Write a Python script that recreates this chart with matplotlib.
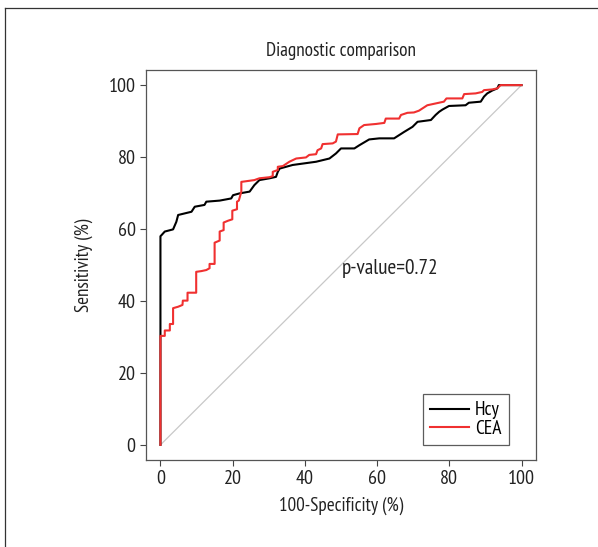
import matplotlib
matplotlib.use("Agg")
import matplotlib.pyplot as plt
from matplotlib.lines import Line2D

plt.rcParams['font.family'] = ['PT Sans Narrow', 'Roboto Condensed', 'DejaVu Sans']

# ROC curve points (100-specificity, sensitivity)
hcy_fpr = [0, 0, 0.3, 1.2, 3.5, 4.4, 4.9, 8.6, 9.5, 12.2, 12.7, 16.4, 19.6, 20.1,
           21.9, 24.7, 26.0, 27.4, 30.2, 32.0, 32.5, 33.0, 36.6, 43.1, 46.8, 48.6,
           50.0, 53.7, 55.1, 57.8, 60.6, 64.7, 66.1, 67.5, 69.8, 71.2, 74.9, 76.2,
           77.2, 78.1, 79.9, 84.5, 85.4, 88.7, 89.6, 90.5, 91.9, 93.3, 93.7, 94.6, 100]
hcy_tpr = [0, 58.0, 58.3, 59.3, 59.9, 62.0, 63.9, 64.8, 66.2, 66.7, 67.6, 67.9, 68.5, 69.4,
           69.9, 70.4, 72.2, 73.6, 74.1, 74.5, 75.9, 76.8, 77.8, 78.7, 79.6, 81.0,
           82.4, 82.4, 83.3, 84.9, 85.2, 85.2, 86.1, 87.0, 88.4, 89.8, 90.3, 91.7,
           92.6, 93.2, 94.2, 94.4, 95.1, 95.4, 96.8, 97.7, 98.5, 99.1, 100, 100, 100]

cea_fpr = [0, 0, 1.2, 1.2, 2.6, 2.6, 3.5, 3.5, 4.9, 6.1, 6.2, 7.5, 7.5, 9.9, 9.9,
           11.3, 12.7, 13.6, 13.6, 15.0, 15.0, 16.4, 16.4, 17.5, 17.5, 18.7, 19.9,
           19.9, 21.2, 21.2, 21.7, 22.4, 22.4, 26.0, 27.4, 30.2, 31.1, 31.1, 32.5,
           32.5, 33.9, 35.7, 37.6, 40.3, 41.2, 43.1, 43.5, 44.5, 44.9, 47.7, 48.6,
           49.1, 54.6, 55.1, 56.4, 59.7, 62.0, 62.4, 66.1, 66.6, 68.4, 70.2, 71.6,
           73.9, 76.2, 78.5, 79.2, 83.6, 84.1, 87.3, 89.1, 89.6, 91.9, 93.3, 93.7,
           94.2, 100]
cea_tpr = [0, 30.3, 30.3, 31.8, 31.8, 33.6, 33.6, 38.0, 38.4, 38.9, 40.1, 40.1, 42.3,
           42.3, 48.1, 48.3, 48.6, 49.1, 50.3, 50.3, 56.2, 56.8, 59.3, 59.7, 61.8,
           62.3, 62.7, 65.1, 65.5, 67.6, 67.9, 70.4, 73.1, 73.6, 74.1, 74.4, 74.7,
           75.9, 76.4, 77.3, 77.5, 78.7, 79.6, 79.9, 80.6, 80.8, 81.9, 82.4, 83.6,
           83.8, 84.3, 86.3, 86.4, 88.0, 88.9, 89.2, 89.5, 90.7, 90.7, 91.7, 92.3,
           92.4, 92.9, 94.4, 94.9, 95.4, 96.3, 96.3, 97.5, 97.7, 98.1, 98.6, 98.8,
           99.1, 99.5, 100, 100]

ticks = [0, 20, 40, 60, 80, 100]

fig = plt.figure(figsize=(5.98, 5.47), dpi=100)
ax = fig.add_axes([146/598, 1 - 460/547, 390/598, 390/547])

ax.plot([0, 100], [0, 100], color='#c8c8c8', lw=0.9, zorder=1)
ax.plot(hcy_fpr, hcy_tpr, color='black', lw=1.5, label='Hcy', zorder=2)
ax.plot(cea_fpr, cea_tpr, color='#f03030', lw=1.5, label='CEA', zorder=3)

ax.set_xlim(-4, 104)
ax.set_ylim(-4.2, 104.2)
ax.set_xticks(ticks)
ax.set_yticks(ticks)
ax.tick_params(direction='out', length=4.5, width=0.8, color='#444444',
               labelsize=14.5, pad=3, labelcolor='#222222')
for s in ax.spines.values():
    s.set_color('#555555')
    s.set_linewidth(0.9)

ax.set_title('Diagnostic comparison', fontsize=13.8, pad=10, color='#222222')
ax.set_xlabel('100-Specificity (%)', fontsize=13.8, labelpad=6, color='#222222')
ax.set_ylabel('Sensitivity (%)', fontsize=13.8, labelpad=11, color='#222222')
ax.text(63.5, 49, 'p-value=0.72', fontsize=15.3, ha='center', va='center', color='#222222')

leg = ax.legend(loc='lower right', bbox_to_anchor=(0.931, 0.038), borderaxespad=0,
                fancybox=False, edgecolor='#333333', fontsize=14, handlelength=2.0,
                labelspacing=0.02, borderpad=0.38, handletextpad=0.3)
leg.get_frame().set_linewidth(0.9)

# outer frame of the figure panel
fig.add_artist(Line2D([5/598, 1], [1 - 8/547, 1 - 8/547], color='#333333', lw=0.9))
fig.add_artist(Line2D([5/598, 5/598], [0, 1 - 8/547], color='#333333', lw=0.9))

fig.savefig('out.png', dpi=100)
